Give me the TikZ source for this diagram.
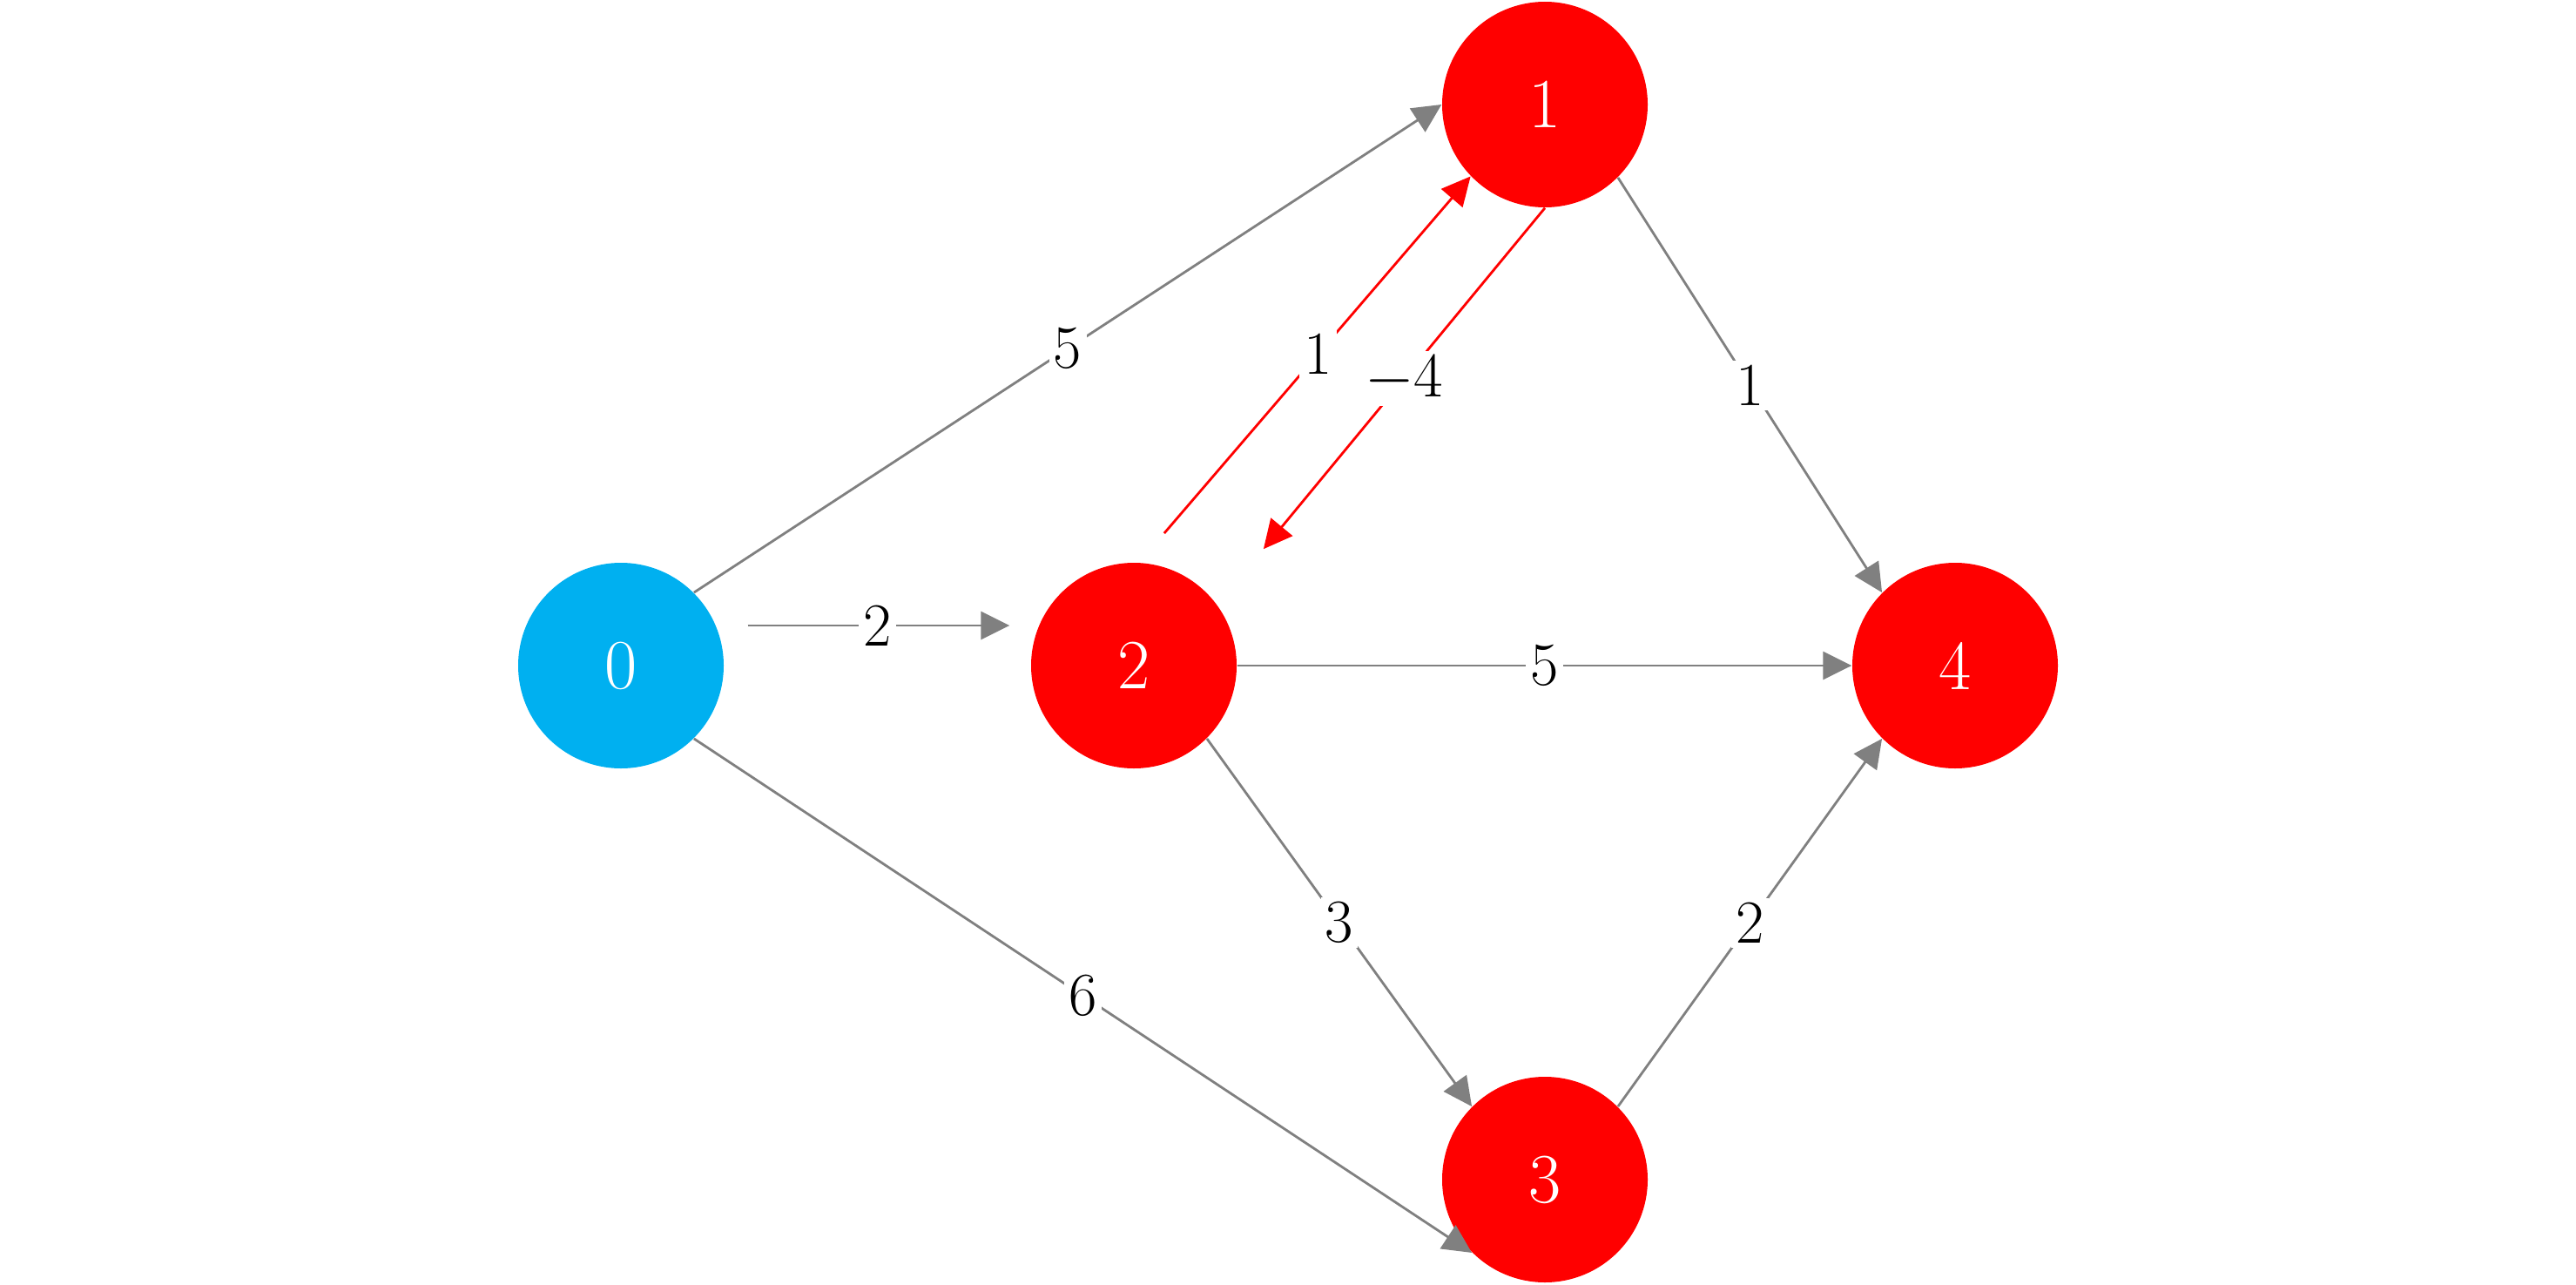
\documentclass[tikz,border=0pt]{standalone}
\usepackage{xcolor}
\usetikzlibrary{arrows.meta}
\definecolor{start-blue}{HTML}{00B0F0}
\definecolor{path-red}{HTML}{FF0000}
\definecolor{edge-gray}{HTML}{808080}

\begin{document}
\begin{tikzpicture}[
    vertex/.style={circle, fill=#1, minimum size=2.36cm, inner sep=0pt,
                   text=white, font=\fontsize{23}{27}\selectfont},
    edge/.style={draw=edge-gray, line width=0.8pt,
                 -{Triangle[length=0.33cm, width=0.32cm]}},
    redge/.style={edge, draw=path-red, fill=path-red},
    weight/.style={fill=white, inner sep=1.5pt, text=black,
                   font=\fontsize{20}{24}\selectfont}]
    \useasboundingbox (0,0) rectangle (29.58,-14.75);

    \node[vertex=start-blue] (n0) at (7.13,-7.64) {0};
    \node[vertex=path-red] (n1) at (17.74,-1.20) {1};
    \node[vertex=path-red] (n2) at (13.02,-7.64) {2};
    \node[vertex=path-red] (n3) at (17.74,-13.54) {3};
    \node[vertex=path-red] (n4) at (22.45,-7.64) {4};

    \draw[edge] (n0.45) -- (n1.180) node[weight, midway] {5};
    \draw[edge, shorten <=0.27cm, shorten >=0.24cm]
      ([yshift=0.46cm]n0.east) -- ([yshift=0.46cm]n2.west)
      node[weight, midway] {2};
    \draw[edge] (n0.-45) -- (n3.225) node[weight, midway] {6};
    \draw[redge, shorten <=0.44cm] (n2.87) -- (n1.224)
      node[weight, pos=0.54] {1};
    \draw[redge, shorten >=0.83cm] (n1.270) -- (n2.36)
      node[weight, pos=0.43] {$-4$};
    \draw[edge] (n1.-45) -- (n4.135) node[weight, midway] {1};
    \draw[edge] (n2.east) -- (n4.west) node[weight, midway] {5};
    \draw[edge] (n2.-45) -- (n3.135) node[weight, midway] {3};
    \draw[edge] (n3.45) -- (n4.225) node[weight, midway] {2};
  \end{tikzpicture}
\end{document}
